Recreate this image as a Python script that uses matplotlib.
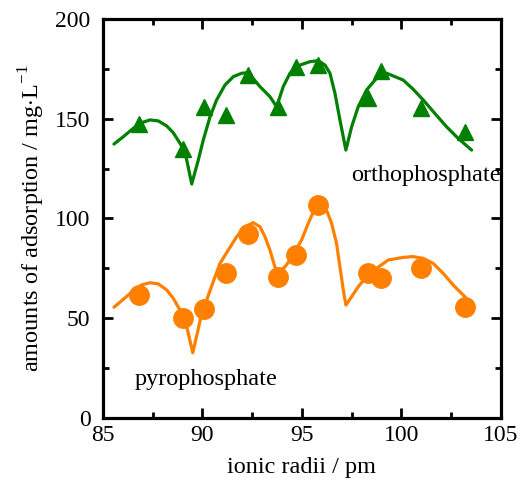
import matplotlib
matplotlib.use("Agg")
import matplotlib.pyplot as plt
from matplotlib.ticker import MultipleLocator

plt.rcParams['font.family'] = ['Liberation Serif', 'DejaVu Serif']
plt.rcParams['mathtext.fontset'] = 'custom'
plt.rcParams['mathtext.rm'] = 'Liberation Serif'

# measured points (ionic radii / pm)
radii = [86.8, 89.0, 90.1, 91.2, 92.3, 93.8, 94.7, 95.8, 98.3, 99.0, 101.0, 103.2]
ortho = [147.4, 134.7, 156.0, 151.9, 171.9, 156.0, 176.1, 176.9, 160.2, 174.1, 155.2, 143.5]
pyro = [61.7, 50.0, 54.5, 72.8, 92.1, 70.8, 81.7, 106.8, 72.8, 70.0, 75.0, 55.8]

# fitted curves
ortho_fit_x = [85.55, 86.02, 86.52, 86.94, 87.36, 87.78, 88.20, 88.53, 88.87, 89.12, 89.46,
               89.79, 90.04, 90.38, 90.71, 91.13, 91.55, 91.97, 92.30, 92.89, 93.39, 93.73,
               94.06, 94.40, 94.90, 95.40, 95.82, 96.16, 96.41, 96.66, 96.91, 97.21, 97.50,
               97.83, 98.25, 98.75, 99.26, 100.09, 100.59, 101.10, 101.68, 102.27, 102.85, 103.53]
ortho_fit_y = [137.3, 141.0, 145.2, 148.0, 149.4, 148.9, 146.4, 143.0, 137.7, 133.5, 117.3,
               129.3, 139.3, 151.0, 159.4, 166.9, 171.1, 172.8, 173.1, 166.1, 161.1, 156.0,
               166.1, 172.8, 176.9, 178.6, 179.1, 176.9, 172.8, 162.8, 149.4, 134.3, 146.0,
               156.0, 164.4, 170.3, 172.8, 169.4, 164.8, 159.4, 152.7, 146.0, 140.2, 134.3]
pyro_fit_x = [85.55, 86.02, 86.52, 86.94, 87.36, 87.78, 88.20, 88.53, 88.87, 89.21, 89.51,
              89.74, 89.96, 90.21, 90.54, 90.88, 91.30, 91.72, 92.14, 92.55, 92.89, 93.14,
              93.39, 93.64, 93.76, 94.15, 94.40, 94.98, 95.32, 95.60, 95.99, 96.27, 96.49,
              96.74, 96.91, 97.08, 97.21, 97.50, 97.83, 98.25, 98.75, 99.34, 100.09, 100.59,
              101.10, 101.60, 102.10, 102.60, 103.27]
pyro_fit_y = [55.5, 59.5, 63.8, 66.7, 67.8, 67.2, 64.2, 60.0, 54.1, 45.8, 32.7,
              42.5, 52.5, 59.1, 68.3, 77.5, 84.2, 90.9, 95.9, 97.9, 95.9, 90.9,
              84.2, 75.8, 72.5, 75.8, 79.2, 89.2, 97.6, 103.9, 106.8, 103.4, 97.6,
              87.6, 75.8, 64.2, 56.6, 60.8, 65.8, 70.8, 75.0, 79.2, 80.5, 80.9,
              80.0, 77.5, 72.5, 66.7, 60.0]

green = '#008000'
orange = '#ff8000'

fig = plt.figure(figsize=(5.19, 4.87), dpi=100)
ax = fig.add_axes([0.1985, 0.1417, 0.7665, 0.8193])

ax.plot(ortho_fit_x, ortho_fit_y, color=green, lw=2.3, zorder=2,
        solid_joinstyle='round', solid_capstyle='round')
ax.plot(pyro_fit_x, pyro_fit_y, color=orange, lw=2.3, zorder=2,
        solid_joinstyle='round', solid_capstyle='round')
ax.plot(radii, ortho, linestyle='none', marker='^', ms=11, color=green, zorder=3)
ax.plot(radii, pyro, linestyle='none', marker='o', ms=14, color=orange, zorder=3)

ax.text(97.45, 121.8, 'orthophosphate', fontsize=17.5, va='center', ha='left')
ax.text(86.6, 19.5, 'pyrophosphate', fontsize=17.5, va='center', ha='left')

ax.set_xlim(85, 105)
ax.set_ylim(0, 200)
ax.xaxis.set_major_locator(MultipleLocator(5))
ax.xaxis.set_minor_locator(MultipleLocator(2.5))
ax.yaxis.set_major_locator(MultipleLocator(50))
ax.yaxis.set_minor_locator(MultipleLocator(25))
ax.tick_params(which='both', direction='in', top=True, right=True, width=2, labelsize=17)
ax.tick_params(which='major', length=7)
ax.tick_params(which='minor', length=4)
ax.tick_params(axis='y', pad=9)
ax.tick_params(axis='x', pad=5)
for s in ax.spines.values():
    s.set_linewidth(2.3)

ax.set_xlabel('ionic radii / pm', fontsize=17.5, labelpad=8)
ax.set_ylabel(r'amounts of adsorption / mg$\cdot$L$^{\mathrm{-1}}$', fontsize=17.5, labelpad=6)

fig.savefig('out.png', dpi=100)
